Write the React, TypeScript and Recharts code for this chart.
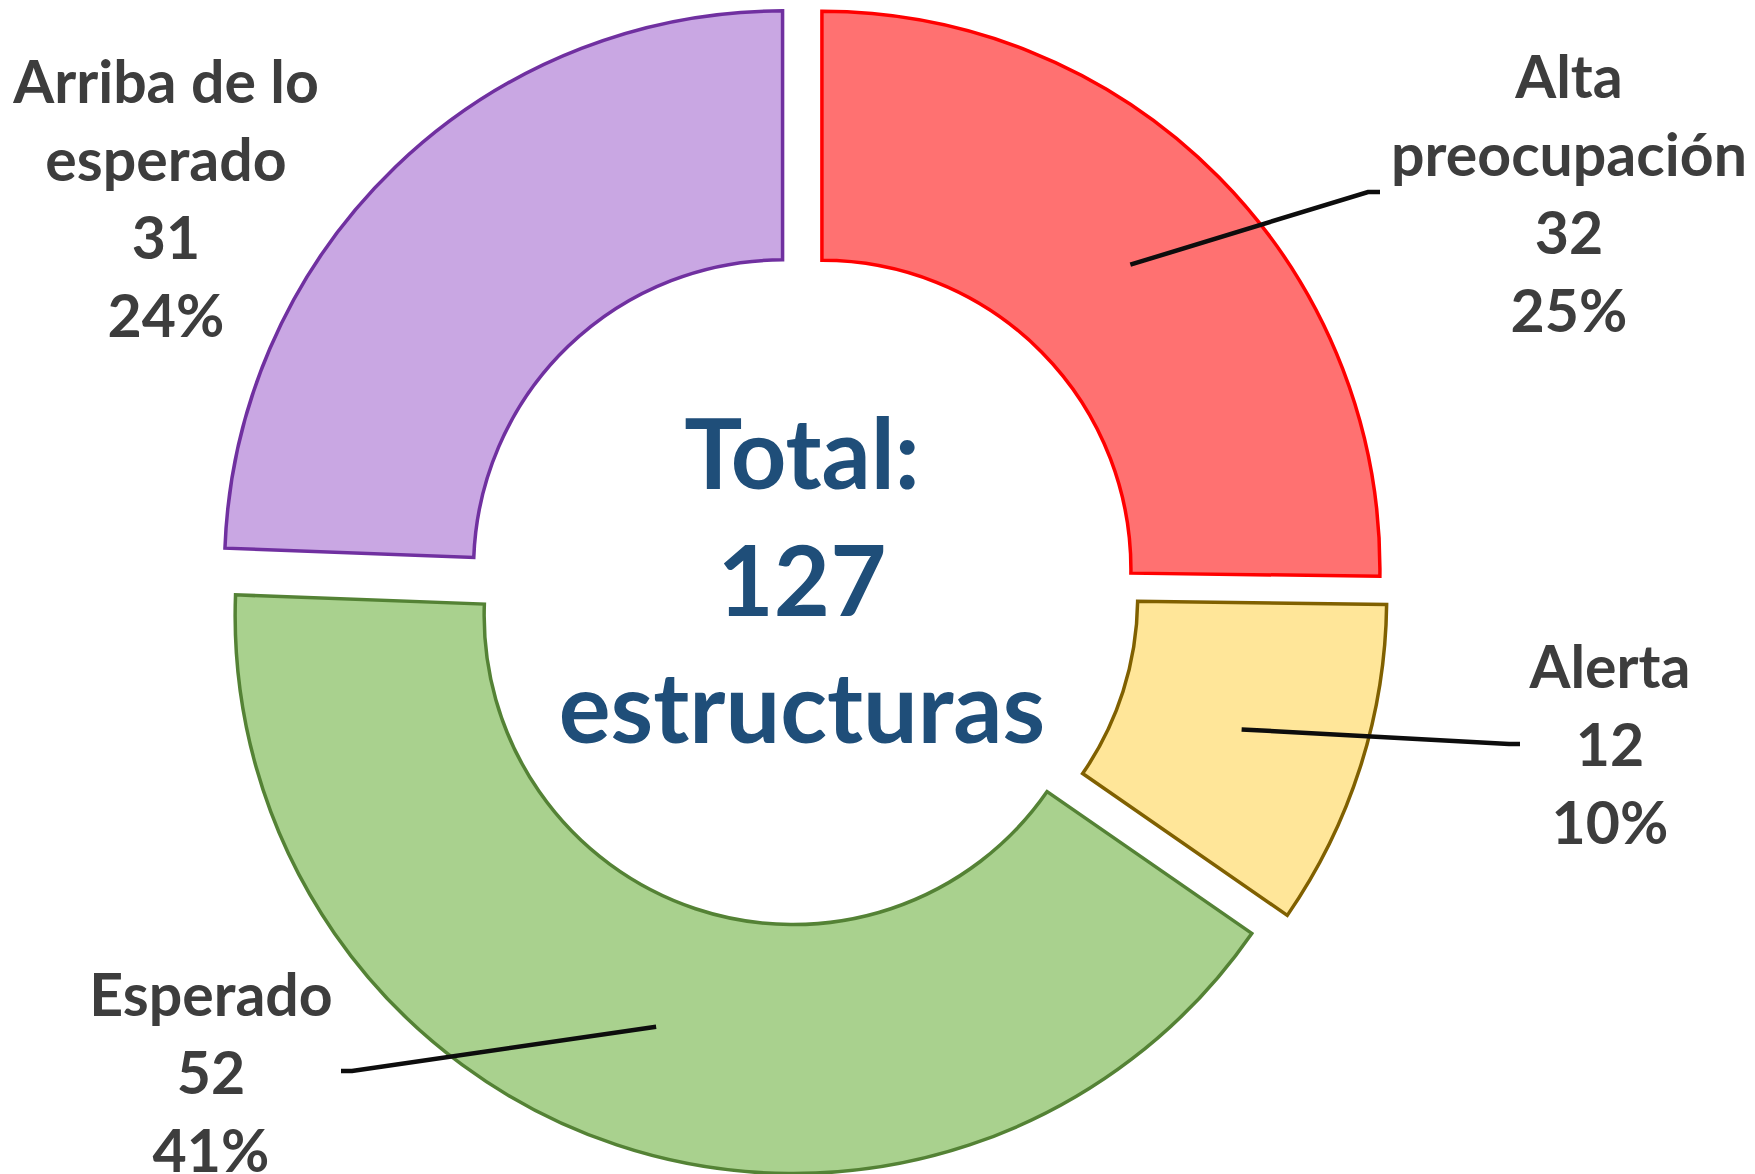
import React from "react";
import { PieChart, Pie, Cell, Customized } from "recharts";

const CATEGORIES = ["Alta preocupación", "Alerta", "Esperado", "Arriba de lo esperado"];
const COUNTS = [32, 12, 52, 31];
const PCT_LABELS = ["25%", "10%", "41%", "24%"];
const NAME_LINES = [["Alta", "preocupación"], ["Alerta"], ["Esperado"], ["Arriba de lo", "esperado"]];
const TOTAL_LINES = ["Total:", "127", "estructuras"];

const FILLS = ["#FF7171", "#FFE699", "#A9D18E", "#C9A7E3"];
const STROKES = ["#FF0000", "#806000", "#548235", "#7030A0"];

const W = 1755;
const H = 1174;
const CX = 802;
const CY = 589;
const R_IN = 309;
const R_OUT = 558;
const EXPLODE = 28;
const RAD = Math.PI / 180;
const FONT = "Lato, 'Open Sans', sans-serif";
const LINE_H = 78;

// where each data label sits (hand placed, like in the original)
const LABEL_POS: { x: number; y: number; lead: number[][] | null }[] = [
  { x: 1569, y: 98, lead: [[1368, 192], [1380, 192]] },
  { x: 1610, y: 688, lead: [[1509, 744], [1520, 744]] },
  { x: 211, y: 1016, lead: [[352, 1071], [341, 1071]] },
  { x: 166, y: 103, lead: null },
];

const rows = CATEGORIES.map((name, i) => ({ name, value: COUNTS[i] }));
const total = COUNTS.reduce((a, b) => a + b, 0);

// exploded slices: one pie per slice, shifted along its mid angle
const offsets = (() => {
  let cum = 0;
  return COUNTS.map((v) => {
    const start = 90 - (360 * cum) / total;
    const mid = start - (180 * v) / total;
    cum += v;
    return { dx: EXPLODE * Math.cos(mid * RAD), dy: -EXPLODE * Math.sin(mid * RAD) };
  });
})();

function makeLabel(target: number) {
  return (p: any) => {
    if (p.index !== target) return <g />;
    const pos = LABEL_POS[target];
    const r = (p.innerRadius + p.outerRadius) / 2;
    const sx = p.cx + r * Math.cos(-p.midAngle * RAD);
    const sy = p.cy + r * Math.sin(-p.midAngle * RAD);
    const lines = [...NAME_LINES[target], String(COUNTS[target]), PCT_LABELS[target]];
    return (
      <g>
        {pos.lead && (
          <polyline
            points={[[sx, sy], ...pos.lead].map((pt) => pt.join(",")).join(" ")}
            fill="none"
            stroke="#0D0D0D"
            strokeWidth={4.5}
          />
        )}
        {lines.map((t, k) => (
          <text
            key={k}
            x={pos.x}
            y={pos.y + k * LINE_H}
            textAnchor="middle"
            fontFamily={FONT}
            fontWeight={700}
            fontSize={59}
            fill="#3D3D3D"
          >
            {t}
          </text>
        ))}
      </g>
    );
  };
}

function CenterText() {
  return (
    <g>
      {TOTAL_LINES.map((t, k) => (
        <text
          key={k}
          x={CX}
          y={489 + k * 127}
          textAnchor="middle"
          fontFamily={FONT}
          fontWeight={700}
          fontSize={97}
          fill="#1F4E79"
        >
          {t}
        </text>
      ))}
    </g>
  );
}

export default function App() {
  return (
    <div style={{ position: "absolute", left: 0, top: 0, background: "#fff" }}>
      <PieChart width={W} height={H} margin={{ top: 0, right: 0, bottom: 0, left: 0 }}>
        {COUNTS.map((_, target) => (
          <Pie
            key={target}
            data={rows}
            dataKey="value"
            nameKey="name"
            cx={CX + offsets[target].dx}
            cy={CY + offsets[target].dy}
            innerRadius={R_IN}
            outerRadius={R_OUT}
            startAngle={90}
            endAngle={-270}
            paddingAngle={0}
            isAnimationActive={false}
            labelLine={false}
            label={makeLabel(target)}
          >
            {rows.map((_, idx) => (
              <Cell
                key={idx}
                fill={idx === target ? FILLS[idx] : "none"}
                stroke={idx === target ? STROKES[idx] : "none"}
                strokeWidth={3.5}
              />
            ))}
          </Pie>
        ))}
        <Customized component={CenterText} />
      </PieChart>
    </div>
  );
}
